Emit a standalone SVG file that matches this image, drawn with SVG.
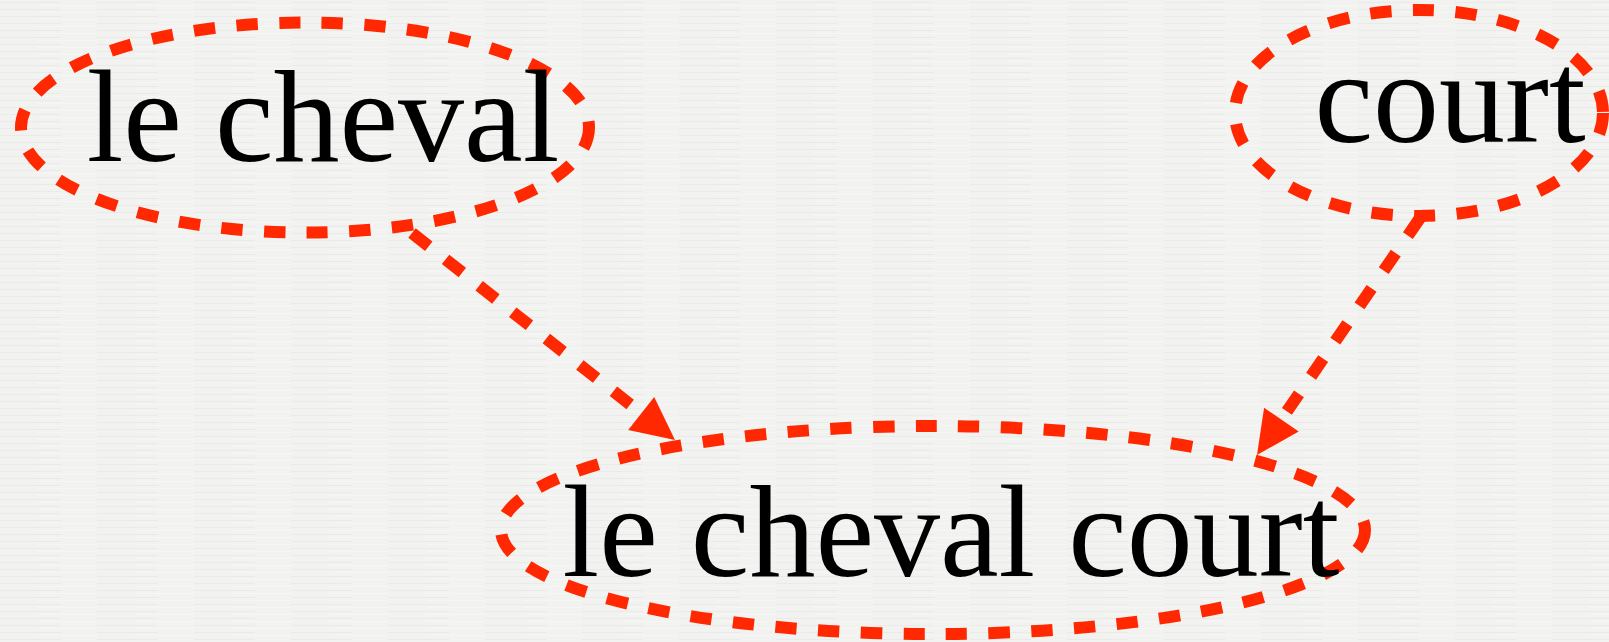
<svg xmlns="http://www.w3.org/2000/svg" width="1609" height="642" viewBox="0 0 1609 642">
  <defs>
    <pattern id="paper" x="0" y="0" width="97" height="7" patternUnits="userSpaceOnUse">
      <rect x="0" y="0" width="97" height="7" fill="#f2f2f0"/>
      <rect x="0" y="2" width="61" height="1" fill="#eaeae8"/>
      <rect x="38" y="5" width="59" height="1" fill="#f6f6f4"/>
    </pattern>
  </defs>
  <style>
    .node ellipse { fill: none; stroke: #ff2800; stroke-width: 12; stroke-dasharray: 21.3 21.4; }
    .node text { font-family: "Liberation Serif", "Times New Roman", serif; font-size: 132px; fill: #000; text-anchor: middle; }
    .edge line { stroke: #ff2800; stroke-width: 12; stroke-dasharray: 21.3 21.4; fill: none; }
    .edge polygon { fill: #ff2800; stroke: none; }
  </style>
  <rect x="0" y="0" width="1609" height="642" fill="url(#paper)"/>
  <g id="n1" class="node">
    <ellipse cx="305" cy="127.5" rx="284" ry="105"/>
    <text x="323" y="161">le cheval</text>
  </g>
  <g id="n2" class="node">
    <ellipse cx="1419" cy="113" rx="184" ry="103"/>
    <text x="1450" y="142">court</text>
  </g>
  <g id="n3" class="node">
    <ellipse cx="933" cy="530" rx="432" ry="104"/>
    <text x="951" y="576">le cheval court</text>
  </g>
  <g id="connectors">
    <g id="e1" class="edge">
      <line x1="412" y1="233" x2="641" y2="413"/>
      <polygon points="675,440 628.2,429.9 654.2,396.9"/>
    </g>
    <g id="e2" class="edge">
      <line x1="1420" y1="218" x2="1281" y2="420"/>
      <polygon points="1257,455 1264.1,407.7 1298.7,431.5"/>
    </g>
  </g>
</svg>
